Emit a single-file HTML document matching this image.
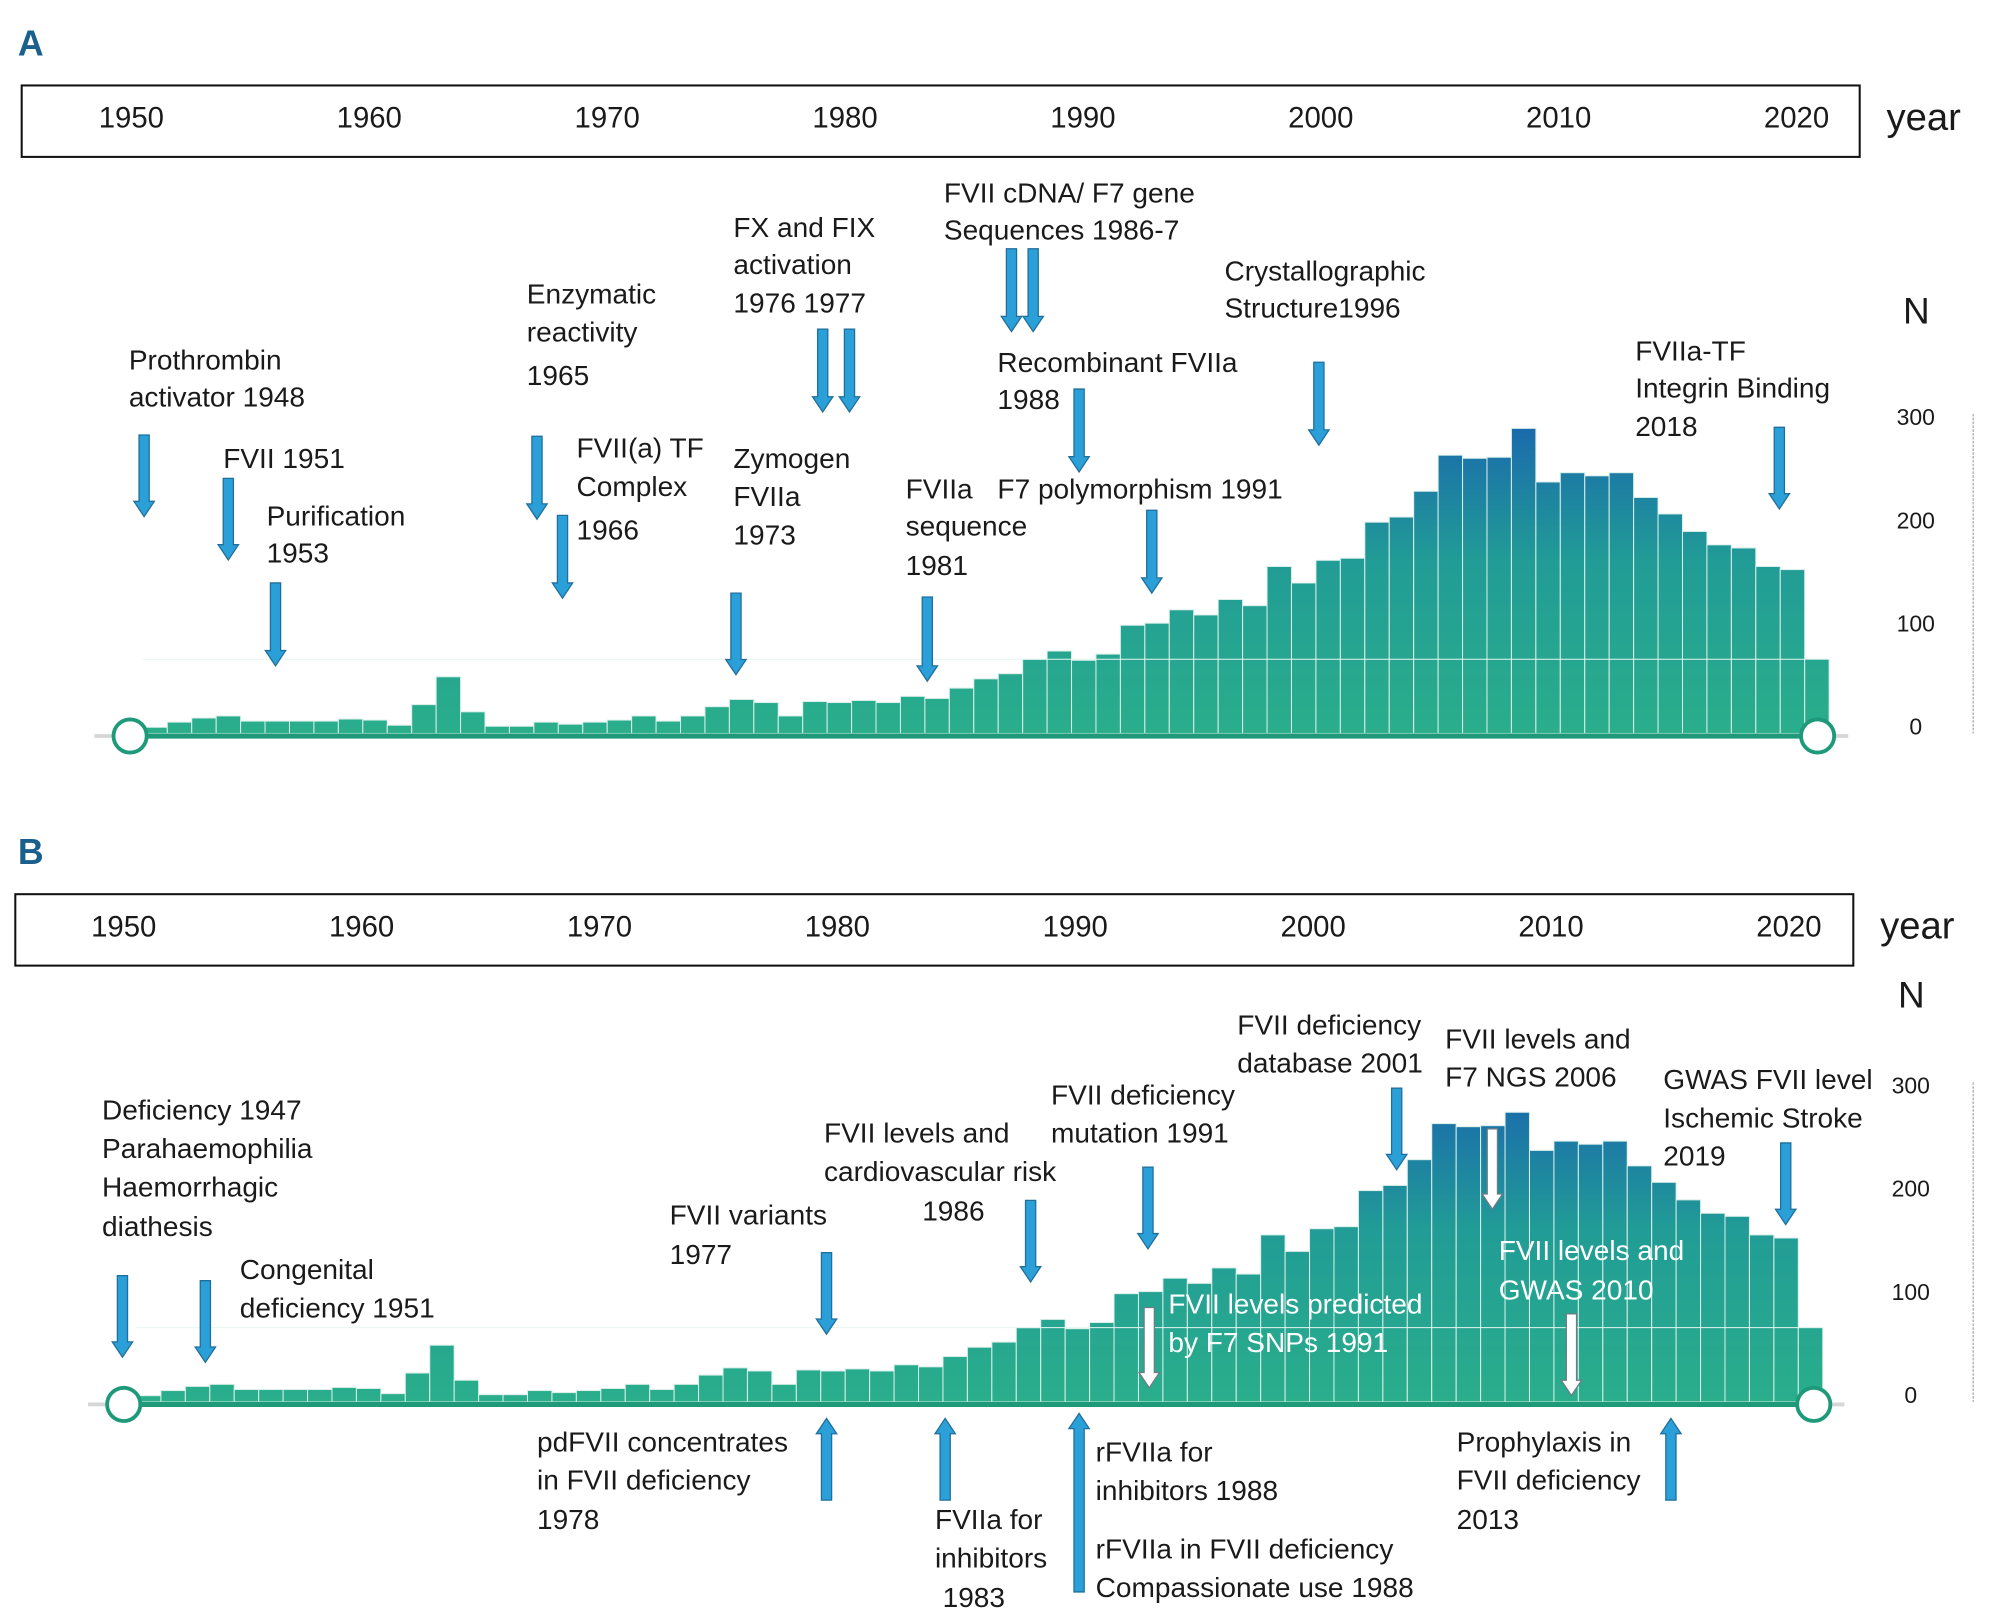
<!DOCTYPE html>
<html><head><meta charset="utf-8">
<style>
html,body{margin:0;padding:0;background:#fff;}
svg{display:block;}
text{font-family:"Liberation Sans",sans-serif;fill:#1a1a1a;}
</style></head>
<body>
<svg id="chart" width="2000" height="1620" viewBox="0 0 1568 1270" preserveAspectRatio="none" xmlns="http://www.w3.org/2000/svg">
<defs>
<linearGradient id="barGrad" gradientUnits="userSpaceOnUse" x1="0" y1="330" x2="0" y2="575">
<stop offset="0" stop-color="#1a68ad"/><stop offset="0.45" stop-color="#219c96"/><stop offset="1" stop-color="#2aae8b"/></linearGradient>
<linearGradient id="barGradB" gradientUnits="userSpaceOnUse" x1="0" y1="854" x2="0" y2="1099">
<stop offset="0" stop-color="#1a68ad"/><stop offset="0.45" stop-color="#219c96"/><stop offset="1" stop-color="#2aae8b"/></linearGradient>
</defs>
<g id="root"></g>
</svg>
<script>
const ns="http://www.w3.org/2000/svg";
const root=document.getElementById('root');
// ---- data ----
const barYears=[];for(let y=1953;y<=2021;y++)barYears.push(y);
const countsA=[6,11,15,17,12,12,12,12,14,13,8,28,55,21,7,7,11,9,11,13,17,12,17,26,33,30,17,31,30,32,30,36,34,44,53,58,72,80,71,77,105,107,120,115,130,124,162,146,168,170,205,210,235,270,267,268,296,244,253,250,253,229,213,196,183,180,162,159,72];
const countsB=[6,11,15,17,12,12,12,12,14,13,8,28,55,21,7,7,11,9,11,13,17,12,17,26,33,30,17,31,30,32,30,36,34,44,53,58,72,80,71,77,105,107,120,115,130,124,162,146,168,170,205,210,235,270,267,268,281,244,253,250,253,229,213,196,183,180,162,159,72];
const yearTicks=[1950,1960,1970,1980,1990,2000,2010,2020];
const nTicks=[0,100,200,300];

function el(tag,attrs,parent){const e=document.createElementNS(ns,tag);for(const k in attrs)e.setAttribute(k,attrs[k]);(parent||root).appendChild(e);return e;}
function txt(x,y,s,opts,parent){opts=opts||{};const t=el('text',{x:x,y:y,'font-size':opts.size||22,'dominant-baseline':'middle','text-anchor':opts.anchor||'start'},parent);if(opts.fill)t.style.fill=opts.fill;if(opts.weight)t.setAttribute('font-weight',opts.weight);t.textContent=s;return t;}
function arrow(x,y1,y2,up,white,parent){
  const w=4,hw=8,hh=12;let pts;
  if(!up){pts=[[x-w,y1],[x+w,y1],[x+w,y2-hh],[x+hw,y2-hh],[x,y2],[x-hw,y2-hh],[x-w,y2-hh]];}
  else{pts=[[x-w,y2],[x+w,y2],[x+w,y1+hh],[x+hw,y1+hh],[x,y1],[x-hw,y1+hh],[x-w,y1+hh]];}
  return el('polygon',{points:pts.map(p=>p.join(',')).join(' '),fill:white?'#ffffff':'#2a9fd8',stroke:white?'#6c7c86':'#1f6f9a','stroke-width':1},parent);
}

function panel(p){
  const g=el('g',{});
  
  
  const L=txt(14,p.letterY,p.letter,{size:28,weight:'bold',fill:'#1b5f8c'},g);
  
  const box=el('rect',{x:p.boxX,y:p.boxY,width:1441,height:56,fill:'#fff',stroke:'#111','stroke-width':1.6},g);
  
  const yx=y=>p.x1950+(y-1950)*18.65;
  yearTicks.forEach(y=>{const t=txt(yx(y),p.boxY+27,String(y),{size:23,anchor:'middle'},g);});
  const yl=txt(p.boxX+1462,p.boxY+27,'year',{size:30},g);
  const vy=v=>p.base-v*0.808;
  const nl=txt(p.nX,p.nY,'N',{size:29},g);
  el('line',{x1:1547,y1:vy(310),x2:1547,y2:vy(0),stroke:'#aaa','stroke-width':1,'stroke-dasharray':'2,1'},g);
  nTicks.forEach(v=>{const t=txt(p.tickX,vy(v)-4,String(v),{size:18,anchor:'middle'},g);});
  const bx=i=>p.barX0+i*19.16;
  p.counts.forEach((v,i)=>{
    const r=el('rect',{x:bx(i),y:vy(v),width:19.16,height:p.base-vy(v),fill:p.grad,stroke:'#d9efe9','stroke-width':0.8},g);
    
    
  });
  el('line',{x1:bx(0),y1:vy(72),x2:bx(p.counts.length-1),y2:vy(72),stroke:'#e6f4f0','stroke-width':0.8},g);
  el('line',{x1:p.cx1-28,y1:p.cy,x2:p.cx2+24,y2:p.cy,stroke:'#d6d6d6','stroke-width':3},g);
  el('line',{x1:p.cx1,y1:p.cy,x2:p.cx2,y2:p.cy,stroke:'#1e9a7a','stroke-width':4},g);
  [p.cx1,p.cx2].forEach((cx,k)=>{const c=el('circle',{cx:cx,cy:p.cy,r:13,fill:'#fff',stroke:'#1e9a7a','stroke-width':3},g);});
  p.notes.forEach(n=>{
    const ag=el('g',{},g);
    
    
    n.lines.forEach(l=>txt(l[0],l[1],l[2],{fill:n.white?'#ffffff':null},ag));
    n.arrows.forEach(a=>arrow(a[0],a[1],a[2],a[3],a[4],ag));
  });
}

panel({name:'panel-a',letter:'A',letterY:36,boxX:17,boxY:67,x1950:103,base:575,nX:1492,nY:246,tickX:1502,
  counts:countsA,barX0:112,grad:'url(#barGrad)',cx1:102,cx2:1425,cy:577,
  notes:[
  {name:'note-prothrombin-activator',lines:[[101,284,'Prothrombin'],[101,313,'activator 1948']],arrows:[[113,341,405]]},
  {name:'note-fvii-1951',lines:[[175,361,'FVII 1951']],arrows:[[179,375,439]]},
  {name:'note-purification',lines:[[209,406,'Purification'],[209,435,'1953']],arrows:[[216,457,522]]},
  {name:'note-enzymatic',lines:[[413,232,'Enzymatic'],[413,262,'reactivity'],[413,296,'1965']],arrows:[[421,342,407]]},
  {name:'note-tf-complex',lines:[[452,353,'FVII(a) TF'],[452,383,'Complex'],[452,417,'1966']],arrows:[[441,404,469]]},
  {name:'note-fx-fix',lines:[[575,180,'FX and FIX'],[575,209,'activation'],[575,239,'1976 1977']],arrows:[[645,258,323],[666,258,323]]},
  {name:'note-zymogen',lines:[[575,361,'Zymogen'],[575,391,'FVIIa'],[575,421,'1973']],arrows:[[577,465,529]]},
  {name:'note-sequence',lines:[[710,385,'FVIIa'],[710,414,'sequence'],[710,445,'1981']],arrows:[[727,468,534]]},
  {name:'note-cdna',lines:[[740,153,'FVII cDNA/ F7 gene'],[740,182,'Sequences 1986-7']],arrows:[[793,195,260],[810,195,260]]},
  {name:'note-recombinant',lines:[[782,286,'Recombinant FVIIa'],[782,315,'1988']],arrows:[[846,305,370]]},
  {name:'note-polymorphism',lines:[[782,385,'F7 polymorphism 1991']],arrows:[[903,400,465]]},
  {name:'note-crystal',lines:[[960,214,'Crystallographic'],[960,243,'Structure1996']],arrows:[[1034,284,349]]},
  {name:'note-integrin',lines:[[1282,277,'FVIIa-TF'],[1282,306,'Integrin Binding'],[1282,336,'2018']],arrows:[[1395,335,399]]}
  ]});

panel({name:'panel-b',letter:'B',letterY:670,boxX:12,boxY:701,x1950:97,base:1099,nX:1488,nY:782,tickX:1498,
  counts:countsB,barX0:107,grad:'url(#barGradB)',cx1:97,cx2:1422,cy:1101,
  notes:[
  {name:'note-deficiency-1947',lines:[[80,872,'Deficiency 1947'],[80,902,'Parahaemophilia'],[80,932,'Haemorrhagic'],[80,963,'diathesis']],arrows:[[96,1000,1064]]},
  {name:'note-congenital',lines:[[188,997,'Congenital'],[188,1027,'deficiency 1951']],arrows:[[161,1004,1068]]},
  {name:'note-variants',lines:[[525,954,'FVII variants'],[525,985,'1977']],arrows:[[648,982,1046]]},
  {name:'note-cardiovascular',lines:[[646,890,'FVII levels and'],[646,920,'cardiovascular risk'],[723,951,'1986']],arrows:[[808,941,1005]]},
  {name:'note-mutation',lines:[[824,860,'FVII deficiency'],[824,890,'mutation 1991']],arrows:[[900,915,979]]},
  {name:'note-database',lines:[[970,805,'FVII deficiency'],[970,835,'database 2001']],arrows:[[1095,853,917]]},
  {name:'note-ngs',lines:[[1133,816,'FVII levels and'],[1133,846,'F7 NGS 2006']],arrows:[[1170,885,948,false,true]]},
  {name:'note-gwas-stroke',lines:[[1304,848,'GWAS FVII level'],[1304,878,'Ischemic Stroke'],[1304,908,'2019']],arrows:[[1400,896,960]]},
  {name:'note-snps',white:true,lines:[[916,1024,'FVII levels predicted'],[916,1054,'by F7 SNPs  1991']],arrows:[[901,1025,1088,false,true]]},
  {name:'note-gwas-2010',white:true,lines:[[1175,982,'FVII levels and'],[1175,1013,'GWAS 2010']],arrows:[[1232,1030,1094,false,true]]},
  {name:'note-pdfvii',lines:[[421,1132,'pdFVII concentrates'],[421,1162,'in FVII deficiency'],[421,1193,'1978']],arrows:[[648,1112,1176,true]]},
  {name:'note-fviia-inhibitors',lines:[[733,1193,'FVIIa for'],[733,1223,'inhibitors'],[739,1254,'1983']],arrows:[[741,1112,1176,true]]},
  {name:'note-rfviia',lines:[[859,1140,'rFVIIa for'],[859,1170,'inhibitors 1988'],[859,1216,'rFVIIa in FVII deficiency'],[859,1246,'Compassionate use 1988']],arrows:[[846,1108,1248,true]]},
  {name:'note-prophylaxis',lines:[[1142,1132,'Prophylaxis in'],[1142,1162,'FVII deficiency'],[1142,1193,'2013']],arrows:[[1310,1112,1176,true]]}
  ]});
</script>
</body></html>
